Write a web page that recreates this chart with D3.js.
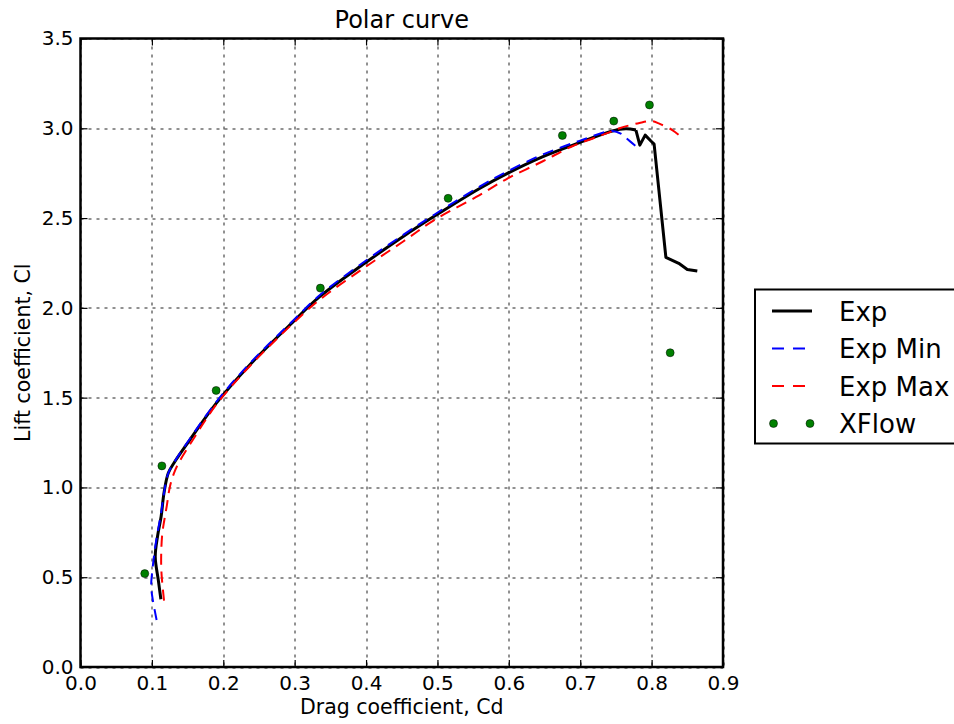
<!DOCTYPE html>
<html>
<head>
<meta charset="utf-8">
<script src="https://cdn.jsdelivr.net/npm/d3@7"></script>
<style>
  html, body { margin: 0; padding: 0; background: #fff; }
  svg { display: block; font-family: "DejaVu Sans", sans-serif; }
</style>
</head>
<body>
<svg id="chart" width="954" height="724"></svg>
<script>
// Exp (black solid)
const expCd = [0.1126, 0.109, 0.1047, 0.108, 0.113, 0.117, 0.123, 0.132, 0.153, 0.19, 0.237, 0.298, 0.335, 0.398,
  0.4515, 0.496, 0.559, 0.598, 0.647, 0.699, 0.745, 0.764, 0.778, 0.7835, 0.791, 0.799, 0.8035, 0.82, 0.838, 0.85, 0.864];
const expCl = [0.377, 0.484, 0.614, 0.73, 0.84, 0.97, 1.08, 1.143, 1.264, 1.468, 1.682, 1.923, 2.062, 2.248,
  2.396, 2.511, 2.665, 2.749, 2.841, 2.92, 2.985, 2.997, 2.99, 2.906, 2.962, 2.929, 2.912, 2.281, 2.248, 2.214, 2.205];

// Exp Min (blue dashed)
const expMinCd = [0.1066, 0.101, 0.099, 0.101, 0.104, 0.108, 0.113, 0.117, 0.123, 0.132, 0.153, 0.19, 0.237, 0.298,
  0.335, 0.398, 0.4515, 0.496, 0.559, 0.598, 0.647, 0.699, 0.745, 0.757, 0.766, 0.778];
const expMinCl = [0.262, 0.38, 0.45, 0.55, 0.65, 0.75, 0.86, 0.97, 1.08, 1.145, 1.27, 1.475, 1.69, 1.93,
  2.07, 2.258, 2.405, 2.52, 2.675, 2.76, 2.853, 2.93, 2.985, 2.97, 2.94, 2.9];

// Exp Max (red dashed)
const expMaxCd = [0.117, 0.1135, 0.113, 0.1145, 0.1175, 0.121, 0.125, 0.131, 0.138, 0.155, 0.19, 0.237, 0.298, 0.335,
  0.398, 0.4515, 0.496, 0.559, 0.598, 0.647, 0.689, 0.736, 0.755, 0.783, 0.801, 0.81, 0.829, 0.841];
const expMaxCl = [0.37, 0.52, 0.62, 0.74, 0.82, 0.9, 1.0, 1.08, 1.14, 1.25, 1.46, 1.675, 1.915, 2.045,
  2.225, 2.368, 2.49, 2.628, 2.72, 2.815, 2.9, 2.97, 3.0, 3.03, 3.04, 3.027, 2.99, 2.953];

// XFlow (green points)
const xflowCd = [0.090, 0.114, 0.190, 0.336, 0.515, 0.675, 0.747, 0.797, 0.826];
const xflowCl = [0.52, 1.12, 1.54, 2.11, 2.61, 2.96, 3.04, 3.13, 1.75];

const xTicks = [0, 0.1, 0.2, 0.3, 0.4, 0.5, 0.6, 0.7, 0.8, 0.9];
const yTicks = [0, 0.5, 1.0, 1.5, 2.0, 2.5, 3.0, 3.5];

const legendNames = ['Exp', 'Exp Min', 'Exp Max', 'XFlow'];

const margin = {top: 38.5, bottom: 57, left: 80.5, right: 231};
const width = 954, height = 724;
const innerW = width - margin.left - margin.right;
const innerH = height - margin.top - margin.bottom;

const svg = d3.select('#chart');
svg.append('rect').attr('width', width).attr('height', height).attr('fill', '#fff');

const g = svg.append('g').attr('transform', `translate(${margin.left},${margin.top})`);

const xScale = d3.scaleLinear().domain([0, 0.9]).range([0, innerW]);
const yScale = d3.scaleLinear().domain([0, 3.5]).range([innerH, 0]);

// grid
const grid = g.append('g').attr('stroke', '#222').attr('stroke-width', 1).attr('stroke-dasharray', '3,5');
grid.selectAll('.gx').data(xTicks).join('line')
  .attr('x1', d => Math.round(xScale(d)) + 0.5).attr('x2', d => Math.round(xScale(d)) + 0.5)
  .attr('y1', 0).attr('y2', innerH);
grid.selectAll('.gy').data(yTicks).join('line')
  .attr('y1', d => Math.round(yScale(d)) + 0.5).attr('y2', d => Math.round(yScale(d)) + 0.5)
  .attr('x1', 0).attr('x2', innerW);

// axes (ticks pointing inward)
const fmt = d3.format('.1f');
const xAxis = g.append('g').attr('transform', `translate(0,${innerH})`)
  .call(d3.axisBottom(xScale).tickValues(xTicks).tickFormat(fmt).tickSizeInner(-7).tickSizeOuter(0).tickPadding(9));
const yAxis = g.append('g')
  .call(d3.axisLeft(yScale).tickValues(yTicks).tickFormat(fmt).tickSizeInner(-7).tickSizeOuter(0).tickPadding(7));
const xTop = g.append('g')
  .call(d3.axisTop(xScale).tickValues(xTicks).tickFormat('').tickSizeInner(-7).tickSizeOuter(0));
const yRight = g.append('g').attr('transform', `translate(${innerW},0)`)
  .call(d3.axisRight(yScale).tickValues(yTicks).tickFormat('').tickSizeInner(-7).tickSizeOuter(0));

[xAxis, yAxis, xTop, yRight].forEach(a => {
  a.select('.domain').remove();
  a.selectAll('line').attr('stroke', '#000').attr('stroke-width', 1.2);
  a.selectAll('text').attr('font-size', 20).attr('font-family', '"DejaVu Sans", sans-serif').attr('fill', '#000');
});

// series
const smooth = d3.line().x(d => xScale(d[0])).y(d => yScale(d[1])).curve(d3.curveCatmullRom.alpha(0.5));
const straight = d3.line().x(d => xScale(d[0])).y(d => yScale(d[1]));
const zip = (a, b) => a.map((v, i) => [v, b[i]]);

const plot = g.append('g');
// black curve: smooth over the polar, plain segments over the stall part
const expPts = zip(expCd, expCl);
const stallAt = 22;
plot.append('path').datum(expPts.slice(0, stallAt + 1))
  .attr('d', smooth).attr('fill', 'none').attr('stroke', '#000').attr('stroke-width', 3).attr('stroke-linejoin', 'round');
plot.append('path').datum(expPts.slice(stallAt))
  .attr('d', straight).attr('fill', 'none').attr('stroke', '#000').attr('stroke-width', 3).attr('stroke-linejoin', 'round');
plot.append('path').datum(zip(expMinCd, expMinCl))
  .attr('d', smooth).attr('fill', 'none').attr('stroke', '#0000ff').attr('stroke-width', 2).attr('stroke-dasharray', '11,7');
plot.append('path').datum(zip(expMaxCd, expMaxCl))
  .attr('d', smooth).attr('fill', 'none').attr('stroke', '#ff0000').attr('stroke-width', 2).attr('stroke-dasharray', '11,7');
plot.selectAll('circle').data(zip(xflowCd, xflowCl)).join('circle')
  .attr('cx', d => xScale(d[0])).attr('cy', d => yScale(d[1])).attr('r', 4)
  .attr('fill', '#008000').attr('stroke', '#000').attr('stroke-width', 0.5);

// frame
g.append('rect').attr('width', innerW).attr('height', innerH)
  .attr('fill', 'none').attr('stroke', '#000').attr('stroke-width', 2.5);

// title and labels
svg.append('text').attr('x', margin.left + innerW / 2).attr('y', 28)
  .attr('text-anchor', 'middle').attr('font-size', 24).text('Polar curve');
svg.append('text').attr('x', margin.left + innerW / 2).attr('y', 714)
  .attr('text-anchor', 'middle').attr('font-size', 20.5).text('Drag coefficient, Cd');
svg.append('text').attr('transform', `translate(30,${margin.top + innerH / 2}) rotate(-90)`)
  .attr('text-anchor', 'middle').attr('font-size', 20.5).text('Lift coefficient, Cl');

// legend
const legend = svg.append('g').attr('transform', 'translate(755,289.5)');
legend.append('rect').attr('width', 220).attr('height', 154)
  .attr('fill', '#fff').attr('stroke', '#000').attr('stroke-width', 2);
const rowY = i => 21.5 + i * 37.5;
legend.append('line').attr('x1', 17).attr('x2', 57).attr('y1', rowY(0)).attr('y2', rowY(0))
  .attr('stroke', '#000').attr('stroke-width', 3);
legend.append('line').attr('x1', 17).attr('x2', 57).attr('y1', rowY(1)).attr('y2', rowY(1))
  .attr('stroke', '#0000ff').attr('stroke-width', 2).attr('stroke-dasharray', '12,9');
legend.append('line').attr('x1', 17).attr('x2', 57).attr('y1', rowY(2)).attr('y2', rowY(2))
  .attr('stroke', '#ff0000').attr('stroke-width', 2).attr('stroke-dasharray', '12,9');
[18.5, 55].forEach(cx => legend.append('circle').attr('cx', cx).attr('cy', rowY(3)).attr('r', 4)
  .attr('fill', '#008000').attr('stroke', '#000').attr('stroke-width', 0.5));
legend.selectAll('text.lbl').data(legendNames).join('text')
  .attr('class', 'lbl').attr('x', 84).attr('y', (d, i) => rowY(i) + 9.5)
  .attr('font-size', 26).text(d => d);
</script>
</body>
</html>
